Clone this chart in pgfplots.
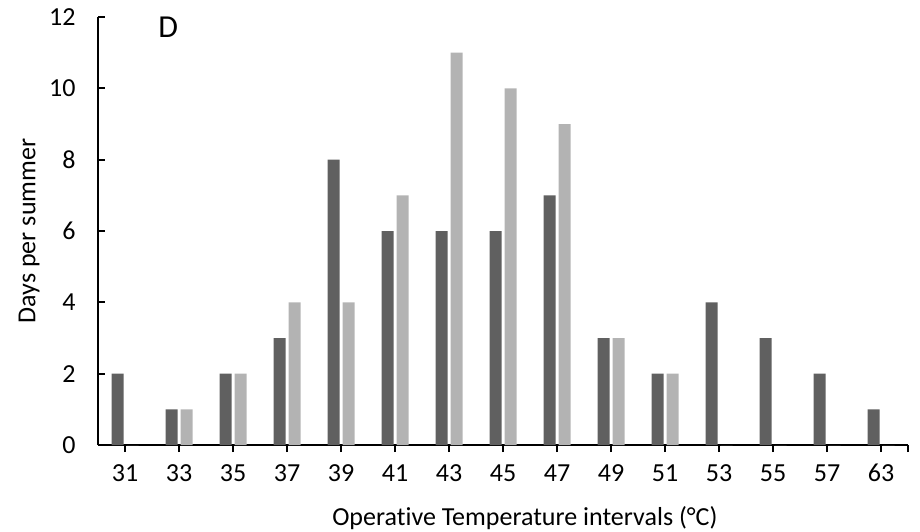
\documentclass[border=0pt]{standalone}
\usepackage{fontspec}
\setmainfont{Carlito}[Ligatures=NoCommon]
\usepackage{pgfplots}
\pgfplotsset{compat=1.18}

\definecolor{darkbar}{HTML}{606060}
\definecolor{lightbar}{HTML}{B3B3B3}

\begin{document}
\begin{tikzpicture}
\path[use as bounding box] (-49pt,-43pt) rectangle (411pt,222.5pt);
\begin{axis}[
    at={(0,0)}, anchor=south west,
    scale only axis,
    width=405pt, height=214pt,
    ybar=1.5pt, bar width=6pt,
    xmin=-0.5, xmax=14.5,
    ymin=0, ymax=12,
    xtick=data,
    xticklabels={31,33,35,37,39,41,43,45,47,49,51,53,55,57,63},
    extra x ticks={14.5}, extra x tick labels={},
    ytick={0,2,...,12},
    axis lines*=left,
    axis line style={line width=1pt, black},
    xtick align=outside, ytick align=inside,
    major tick length=3.5pt,
    tick style={line width=1pt, black},
    font=\fontsize{13pt}{15.5pt}\selectfont,
    /pgf/number format/assume math mode=true,
    yticklabel style={anchor=east, inner sep=0pt, xshift=-11pt},
    xticklabel style={anchor=base, inner sep=0pt, yshift=-14.5pt},
    xlabel={Operative Temperature intervals (°C)},
    ylabel={Days per summer},
    xlabel style={at={(axis description cs:0.527,-0.171)}, anchor=center},
    ylabel style={at={(axis description cs:-0.085,0.5)}, anchor=center},
    clip=false
]
\addplot[fill=darkbar, draw=none] coordinates {
    (0,2) (1,1) (2,2) (3,3) (4,8) (5,6) (6,6) (7,6)
    (8,7) (9,3) (10,2) (11,4) (12,3) (13,2) (14,1)};
\addplot[fill=lightbar, draw=none] coordinates {
    (0,0) (1,1) (2,2) (3,4) (4,4) (5,7) (6,11) (7,10)
    (8,9) (9,3) (10,2) (11,0) (12,0) (13,0) (14,0)};
\node[font=\fontsize{16pt}{18pt}\selectfont] at (axis cs:0.8,11.7) {D};
\end{axis}
\end{tikzpicture}
\end{document}
